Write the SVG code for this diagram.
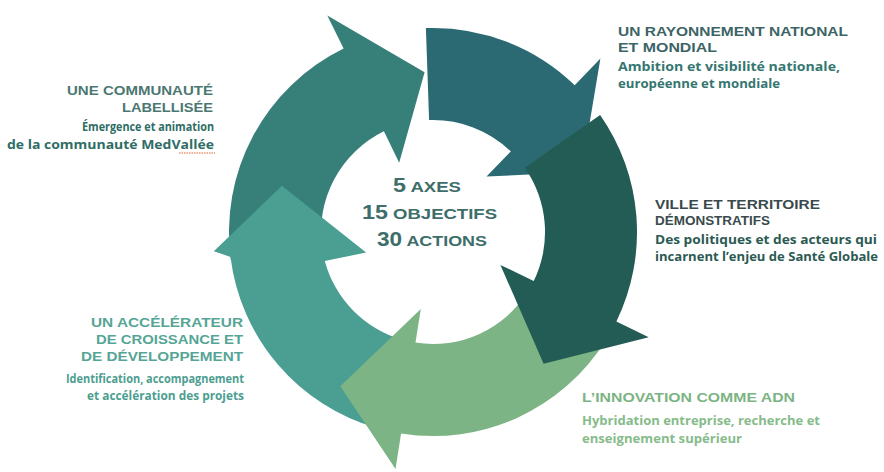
<svg xmlns="http://www.w3.org/2000/svg" width="884" height="472" viewBox="0 0 884 472">
<style>
.t{font-family:"Liberation Sans",Arial,sans-serif;font-weight:700;font-size:12.5px}
.s{font-family:"Open Sans","Liberation Sans",sans-serif;font-weight:700;font-size:12px}
.c{font-family:"Liberation Sans",Arial,sans-serif;font-weight:700;fill:#3e6e6a;text-anchor:middle}
.c .d{font-size:19.5px}
.c .l{font-size:15.5px}
.e{text-anchor:end}
</style>
<rect width="884" height="472" fill="#ffffff"/>
<g id="connectors">
<path id="arrow-a" fill="#377f79" d="M231.0,260.4 A204,204 0 0 1 343.6,48.6 L327.3,15.4 L424.6,72.2 L399.2,162.8 L383.9,131.3 A112,112 0 0 0 322.1,247.6 Z"/>
<path id="arrow-b" fill="#2b6a72" d="M425.9,28.1 A204,204 0 0 1 574.7,85.3 L600.4,58.6 L581.4,172.1 L486.5,176.6 L510.8,151.4 A112,112 0 0 0 429.1,120.1 Z"/>
<path id="arrow-d" fill="#4a9f92" d="M376.8,428.1 A204,204 0 0 1 230.5,256.9 L213.8,251.2 L281.9,185.8 L366.1,252.5 L324.8,261.0 A112,112 0 0 0 402.1,339.7 Z"/>
<path id="arrow-e" fill="#7db485" d="M606.0,340.1 A204,204 0 0 1 401.1,433.5 L395.5,469.0 L340.3,386.3 L420.8,309.0 L415.5,342.6 A112,112 0 0 0 528.0,291.3 Z"/>
<path id="arrow-c" fill="#235c54" d="M600.1,115.0 A204,204 0 0 1 616.4,321.4 L648.7,337.2 L543.6,363.8 L500.4,264.9 L533.7,281.1 A112,112 0 0 0 524.8,167.8 Z"/>
</g>
<g id="center">
<text class="c" x="427" y="192" textLength="68" lengthAdjust="spacingAndGlyphs"><tspan class="d">5</tspan><tspan class="l"> AXES</tspan></text>
<text class="c" x="429.5" y="219" textLength="135" lengthAdjust="spacingAndGlyphs"><tspan class="d">15</tspan><tspan class="l"> OBJECTIFS</tspan></text>
<text class="c" x="432" y="246" textLength="110" lengthAdjust="spacingAndGlyphs"><tspan class="d">30</tspan><tspan class="l"> ACTIONS</tspan></text>
</g>
<g id="node-communaute">
<text class="t e" x="213" y="95" fill="#4b7772" textLength="146" lengthAdjust="spacingAndGlyphs">UNE COMMUNAUTÉ</text>
<text class="t e" x="213" y="112" fill="#4b7772" textLength="91" lengthAdjust="spacingAndGlyphs">LABELLISÉE</text>
<text class="s e" x="214" y="131" fill="#2f6d66" textLength="132" lengthAdjust="spacingAndGlyphs">Émergence et animation</text>
<text class="s e" x="214" y="149" fill="#2f6d66" textLength="207" lengthAdjust="spacingAndGlyphs">de la communauté MedVallée</text>
<line x1="179" y1="153" x2="215" y2="153" stroke="#e0602a" stroke-width="1" stroke-dasharray="1.5 1"/>
</g>
<g id="node-rayonnement">
<text class="t" x="618" y="36" fill="#3c6466" textLength="230" lengthAdjust="spacingAndGlyphs">UN RAYONNEMENT NATIONAL</text>
<text class="t" x="618" y="52" fill="#3c6466" textLength="99" lengthAdjust="spacingAndGlyphs">ET MONDIAL</text>
<text class="s" x="618" y="71" fill="#357670" textLength="222" lengthAdjust="spacingAndGlyphs">Ambition et visibilité nationale,</text>
<text class="s" x="618" y="88" fill="#357670" textLength="162" lengthAdjust="spacingAndGlyphs">européenne et mondiale</text>
</g>
<g id="node-ville">
<text class="t" x="655" y="209" fill="#3a4a4c" textLength="165" lengthAdjust="spacingAndGlyphs">VILLE ET TERRITOIRE</text>
<text class="t" x="655" y="225" fill="#3a4a4c" textLength="115" lengthAdjust="spacingAndGlyphs">DÉMONSTRATIFS</text>
<text class="s" x="655" y="244" fill="#2b5a52" textLength="222" lengthAdjust="spacingAndGlyphs">Des politiques et des acteurs qui</text>
<text class="s" x="655" y="261" fill="#2b5a52" textLength="223" lengthAdjust="spacingAndGlyphs">incarnent l’enjeu de Santé Globale</text>
</g>
<g id="node-accelerateur">
<text class="t e" x="243" y="327" fill="#55a596" textLength="152" lengthAdjust="spacingAndGlyphs">UN ACCÉLÉRATEUR</text>
<text class="t e" x="243" y="344" fill="#55a596" textLength="147" lengthAdjust="spacingAndGlyphs">DE CROISSANCE ET</text>
<text class="t e" x="243" y="361" fill="#55a596" textLength="162" lengthAdjust="spacingAndGlyphs">DE DÉVELOPPEMENT</text>
<text class="s e" x="244" y="383" fill="#4c9e90" textLength="178" lengthAdjust="spacingAndGlyphs">Identification, accompagnement</text>
<text class="s e" x="244" y="400" fill="#4c9e90" textLength="157" lengthAdjust="spacingAndGlyphs">et accélération des projets</text>
</g>
<g id="node-innovation">
<text class="t" x="582" y="402" fill="#7cb384" textLength="213" lengthAdjust="spacingAndGlyphs">L’INNOVATION COMME ADN</text>
<text class="s" x="582" y="425" fill="#86bb8a" textLength="238" lengthAdjust="spacingAndGlyphs">Hybridation entreprise, recherche et</text>
<text class="s" x="582" y="443" fill="#86bb8a" textLength="160" lengthAdjust="spacingAndGlyphs">enseignement supérieur</text>
</g>
</svg>
